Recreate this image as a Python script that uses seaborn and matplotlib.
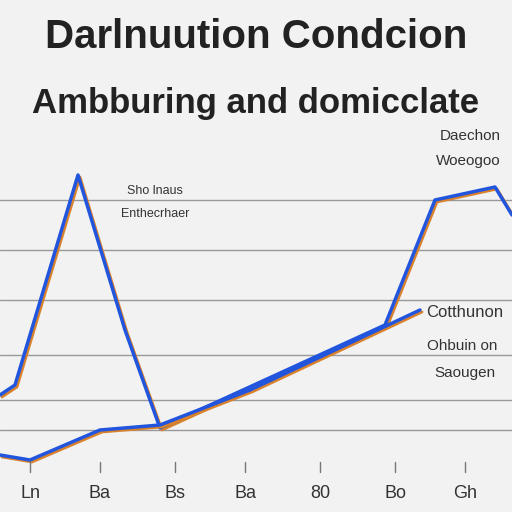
import matplotlib.pyplot as plt
import seaborn as sns
import pandas as pd

# values (x position, level)
peak_x = [0, 15, 78, 125, 160, 385, 435, 495, 512]
peak_y = [117, 127, 337, 182, 84, 187, 312, 325, 297]
base_x = [0, 30, 100, 160, 250, 420]
base_y = [57, 52, 82, 87, 122, 202]
tick_pos = [30, 100, 175, 245, 320, 395, 465]
tick_labels = ["Ln", "Ba", "Bs", "Ba", "80", "Bo", "Gh"]
grid_levels = [312, 262, 212, 157, 112, 82]

sns.set_style("white")
plt.rcParams["font.family"] = ["Liberation Sans", "DejaVu Sans"]
fig = plt.figure(figsize=(5.12, 5.12), dpi=100)
fig.patch.set_facecolor("#f2f2f2")
ax = fig.add_axes([0, 0, 1, 1])
ax.set_facecolor("#f2f2f2")
ax.set_xlim(0, 512)
ax.set_ylim(0, 512)
for g in grid_levels:
    ax.axhline(g, color="#999999", lw=1)

for xs, ys in [(peak_x, peak_y), (base_x, base_y)]:
    df = pd.DataFrame({"x": xs, "y": ys})
    sns.lineplot(data=df, x=[v + 2 for v in xs], y=[v - 2 for v in ys], ax=ax,
                 color="#d9822b", lw=2, sort=False)
    sns.lineplot(data=df, x="x", y="y", ax=ax, color="#2255dd", lw=2.5, sort=False)

for p, lab in zip(tick_pos, tick_labels):
    ax.plot([p, p], [40, 50], color="#777777", lw=1)
    ax.text(p, 18, lab, ha="center", va="center", fontsize=13, color="#333333")

ax.text(256, 475, "Darlnuution Condcion", ha="center", va="center",
        fontsize=29, fontweight="bold", color="#222222")
ax.text(256, 408, "Ambburing and domicclate", ha="center", va="center",
        fontsize=25, fontweight="bold", color="#222222")
ax.text(155, 318, "Sho lnaus", ha="center", fontsize=9, color="#333333")
ax.text(155, 295, "Enthecrhaer", ha="center", fontsize=9, color="#333333")
ax.text(470, 372, "Daechon", ha="center", fontsize=11, color="#333333")
ax.text(468, 347, "Woeogoo", ha="center", fontsize=11, color="#333333")
ax.text(465, 195, "Cotthunon", ha="center", fontsize=12, color="#333333")
ax.text(462, 162, "Ohbuin on", ha="center", fontsize=11, color="#333333")
ax.text(465, 135, "Saougen", ha="center", fontsize=11, color="#333333")
ax.set_xlabel("")
ax.set_ylabel("")
ax.set_xticks([])
ax.set_yticks([])
for s in ax.spines.values():
    s.set_visible(False)
fig.savefig("out.png", dpi=100)
